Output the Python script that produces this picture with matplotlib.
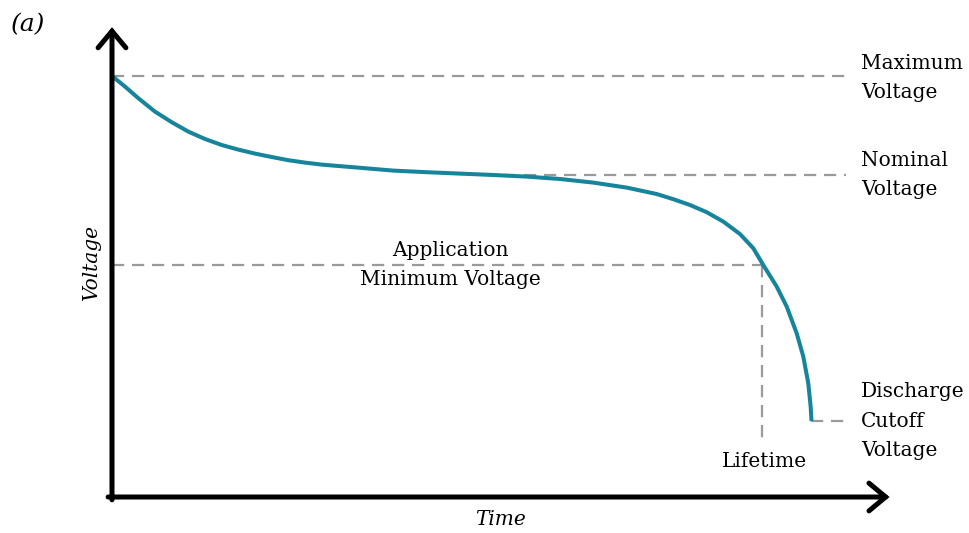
import matplotlib.pyplot as plt

# discharge curve (time in h, voltage in V)
time = [0.0, 0.186, 0.376, 0.614, 0.853, 1.09, 1.329, 1.567, 1.804, 2.043,
        2.281, 2.519, 2.757, 2.996, 3.233, 3.614, 4.019, 4.496, 4.971, 5.447,
        5.924, 6.4, 6.876, 7.353, 7.781, 8.019, 8.257, 8.496, 8.733, 8.971,
        9.161, 9.304, 9.496, 9.639, 9.781, 9.876, 9.947, 9.981, 9.993]
voltage = [4.225, 4.172, 4.114, 4.047, 3.994, 3.947, 3.91, 3.88, 3.857, 3.837,
           3.82, 3.804, 3.792, 3.782, 3.775, 3.764, 3.752, 3.744, 3.737, 3.73,
           3.722, 3.71, 3.692, 3.667, 3.635, 3.609, 3.58, 3.544, 3.497, 3.435,
           3.364, 3.28, 3.172, 3.072, 2.939, 2.822, 2.689, 2.572, 2.5]

v_max = 4.225
v_nominal = 3.73
v_app_min = 3.28
v_cutoff = 2.5
t_end = 9.993
t_lifetime = 9.29
t_nominal_start = 5.6
t_label_end = 10.49

curve_color = '#16859b'
dash_color = '#9a9a9a'
plt.rcParams['font.family'] = 'DejaVu Serif'

fig = plt.figure(figsize=(9.7, 5.33), dpi=100)
ax = fig.add_axes([112 / 970, 36 / 533, 776 / 970, 467 / 533])
ax.set_xlim(0, 11.086)
ax.set_ylim(2.12, 4.455)
ax.axis('off')

dash = dict(color=dash_color, lw=1.6, dashes=(5.5, 3.5), zorder=1)
ax.plot([0, t_label_end], [v_max, v_max], **dash)
ax.plot([t_nominal_start, t_label_end], [v_nominal, v_nominal], **dash)
ax.plot([0, t_lifetime], [v_app_min, v_app_min], **dash)
ax.plot([t_lifetime, t_lifetime], [v_app_min, 2.40], **dash)
ax.plot([t_end, 10.52], [v_cutoff, v_cutoff], **dash)

ax.plot(time, voltage, color=curve_color, lw=2.9, zorder=3,
        solid_capstyle='butt', solid_joinstyle='round')

# axes with open arrow heads
arrow = dict(arrowstyle='->,head_length=0.6,head_width=0.5', lw=3.6,
             color='black', mutation_scale=20, shrinkA=0, shrinkB=0,
             capstyle='round', joinstyle='miter')
ax.annotate('', xy=(0, 1.006), xytext=(0, -0.006), xycoords='axes fraction',
            arrowprops=arrow, annotation_clip=False)
ax.annotate('', xy=(1.002, 0), xytext=(-0.005, 0), xycoords='axes fraction',
            arrowprops=arrow, annotation_clip=False)

fs = 14.5
ls = 1.7
ax.text(10.7, 4.215, 'Maximum\nVoltage', fontsize=fs, va='center', ha='left', linespacing=ls)
ax.text(10.7, v_nominal, 'Nominal\nVoltage', fontsize=fs, va='center', ha='left', linespacing=ls)
ax.text(10.7, v_cutoff, 'Discharge\nCutoff\nVoltage', fontsize=fs, va='center', ha='left', linespacing=ls)
ax.text(4.84, v_app_min, 'Application\nMinimum Voltage', fontsize=fs, va='center', ha='center', linespacing=ls)
ax.text(t_lifetime + 0.03, 2.3, 'Lifetime', fontsize=fs, va='center', ha='center')

ax.text(0.5, -0.049, 'Time', transform=ax.transAxes, fontsize=fs, style='italic',
        ha='center', va='center')
ax.text(-0.026, 0.503, 'Voltage', transform=ax.transAxes, fontsize=fs, style='italic',
        ha='center', va='center', rotation=90)
fig.text(28 / 970, 1 - 25 / 533, '(a)', fontsize=18, style='italic', ha='center', va='center')

fig.savefig('out.png', dpi=100)
